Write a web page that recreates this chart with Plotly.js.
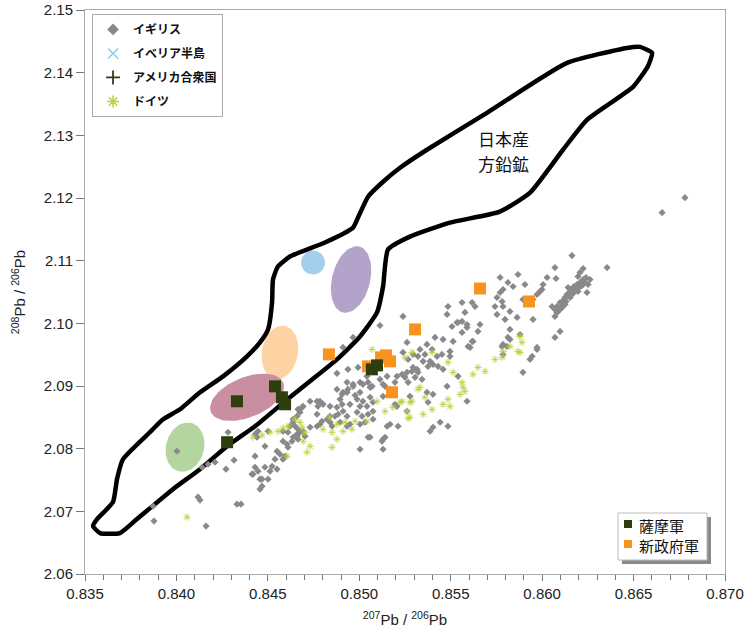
<!DOCTYPE html>
<html>
<head>
<meta charset="utf-8">
<script src="https://cdn.plot.ly/plotly-3.0.1.min.js"></script>
<style>html,body{margin:0;padding:0;background:#fff;}#chart{width:750px;height:631px;}</style>
</head>
<body>
<div id="chart"></div>
<script>
// ---- Data ----
// イギリス (UK) lead isotope points [207Pb/206Pb, 208Pb/206Pb]
const ukXY = [
[0.84003,2.07959],[0.84282,2.08262],[0.84315,2.07816],[0.84211,2.07784],[0.84173,2.07752],[0.84140,2.07704],[0.84271,2.07673],[0.84118,2.07227],[0.84129,2.07179],[0.84331,2.07115],[0.83872,2.07083],[0.83877,2.06844],[0.84162,2.06765],[0.84430,2.07880],[0.84419,2.07593],[0.84446,2.07641],[0.84484,2.08039],[0.84457,2.07513],[0.84468,2.07402],[0.84457,2.07354],[0.84353,2.07115],
[0.84933,2.09058],[0.84966,2.09027],[0.85004,2.09058],[0.85048,2.09058],[0.85070,2.08995],[0.84878,2.08947],[0.84906,2.08867],[0.84933,2.08899],[0.84977,2.08851],[0.85004,2.08899],[0.84988,2.08788],[0.85020,2.08756],[0.85059,2.08820],[0.84895,2.08788],[0.84949,2.08708],[0.84878,2.08660],[0.84911,2.08597],[0.84884,2.08549],[0.85004,2.08676],[0.85075,2.08597],[0.85048,2.08549],[0.84731,2.08756],[0.84785,2.08756],[0.84774,2.08676],[0.84692,2.08676],[0.84665,2.08628],[0.84676,2.08581],[0.84659,2.08517],[0.84769,2.08549],[0.84796,2.08437],[0.84785,2.08389],[0.84840,2.08421],[0.84851,2.08358],[0.84895,2.08421],[0.84933,2.08358],[0.84949,2.08389],[0.85004,2.08389],[0.85031,2.08421],[0.84840,2.08517],[0.84638,2.08421],[0.84649,2.08358],[0.84665,2.08310],[0.84676,2.08262],[0.84659,2.08230],[0.84638,2.08182],[0.84665,2.08151],[0.84692,2.08278],[0.84703,2.08198],[0.84632,2.08119],[0.84605,2.08071],[0.84583,2.08119],[0.84610,2.08023],[0.84550,2.07959],[0.84566,2.07912],[0.84539,2.07832],[0.84583,2.07832],[0.84594,2.07880],[0.84523,2.07720],[0.84550,2.07673],[0.84512,2.07641],[0.84484,2.07704],[0.84501,2.07513],[0.84468,2.07513],[0.84413,2.07593],[0.84430,2.07704],[0.84501,2.08278],[0.84446,2.08278],[0.84430,2.08230],[0.84441,2.08182],[0.85130,2.09027],[0.85141,2.08182],[0.85124,2.08119],[0.85048,2.08182],[0.85004,2.07991],[0.85168,2.08389],[0.85212,2.08358],[0.85075,2.08469],[0.85015,2.08517],[0.84583,2.08278],
[0.85113,2.09966],[0.84966,2.09775],[0.84911,2.09616],[0.84878,2.09202],[0.84938,2.09266],[0.84993,2.09297],[0.85042,2.09154],[0.85113,2.09106],[0.85152,2.09154],[0.85206,2.09154],[0.85195,2.09058],[0.85168,2.08947],[0.85141,2.08995],[0.85059,2.08979],[0.85020,2.09027],[0.84966,2.08995],[0.84938,2.08947],[0.84911,2.08899],[0.84906,2.08708],[0.84840,2.08676],[0.84802,2.08708],[0.84769,2.08756],[0.84687,2.08660],[0.84638,2.08469],[0.84621,2.08358],[0.84610,2.08262],[0.84659,2.08198],[0.84731,2.08342],[0.84769,2.08358],[0.84824,2.08469],[0.84867,2.08517],[0.84933,2.08517],[0.84988,2.08581],[0.85042,2.08676],[0.85075,2.08740],[0.85130,2.08835],[0.85206,2.08676],[0.85152,2.08358],[0.85130,2.08150],[0.85059,2.08182],[0.85130,2.07991],[0.85195,2.08708],
[0.85507,2.09950],[0.85540,2.10014],[0.85589,2.09982],[0.85562,2.09855],[0.85649,2.09871],[0.85414,2.09775],[0.85458,2.09743],[0.85513,2.09712],[0.85617,2.09712],[0.85595,2.09632],[0.85261,2.09696],[0.85370,2.09664],[0.85332,2.09584],[0.85398,2.09584],[0.85496,2.09552],[0.85239,2.09536],[0.85294,2.09504],[0.85321,2.09473],[0.85359,2.09504],[0.85425,2.09473],[0.85452,2.09504],[0.85496,2.09473],[0.85267,2.09425],[0.85349,2.09393],[0.85387,2.09393],[0.85403,2.09345],[0.85376,2.09313],[0.85431,2.09313],[0.85294,2.09297],[0.85316,2.09266],[0.85288,2.09234],[0.85321,2.09218],[0.85261,2.09218],[0.85234,2.09186],[0.85250,2.09138],[0.85305,2.09138],[0.85267,2.09058],[0.85343,2.09106],[0.85458,2.09266],[0.85540,2.09154],[0.85480,2.08995],[0.85370,2.08899],[0.85403,2.08867],[0.85277,2.08835],[0.85376,2.08740],[0.85261,2.08597],[0.85442,2.08421],[0.85403,2.08342],[0.85387,2.08278],[0.85485,2.08358],[0.85589,2.08756],[0.85786,2.09664],[0.85824,2.09743],[0.85808,2.09632],[0.85879,2.09822],[0.85934,2.09425],[0.85972,2.09584],[0.85895,2.09218],[0.85660,2.09982],
[0.86163,2.11081],[0.86355,2.10890],[0.86070,2.10890],[0.86224,2.10874],[0.86207,2.10811],[0.86196,2.10747],[0.86235,2.10651],[0.86245,2.10492],[0.85868,2.10779],[0.85770,2.10731],[0.85813,2.10651],[0.85841,2.10588],[0.85906,2.10620],[0.86005,2.10620],[0.85999,2.10540],[0.86027,2.10731],[0.86076,2.10715],[0.85786,2.10540],[0.85770,2.10492],[0.85753,2.10412],[0.85781,2.10349],[0.85742,2.10269],[0.85786,2.10269],[0.85895,2.10381],[0.85972,2.10460],[0.85988,2.10508],[0.85950,2.10381],[0.86142,2.10572],[0.86153,2.10508],[0.86136,2.10460],[0.86125,2.10412],[0.86114,2.10349],[0.86098,2.10333],[0.86081,2.10269],[0.86070,2.10221],[0.86070,2.10110],[0.86054,2.10269],[0.86109,2.10253],[0.86125,2.10301],[0.86163,2.10492],[0.86180,2.10540],[0.86196,2.10508],[0.85824,2.10189],[0.85753,2.10142],[0.85797,2.10062],[0.85863,2.10094],[0.85950,2.10062],[0.85824,2.09903],[0.86098,2.09871],[0.86070,2.09775],[0.85813,2.09775],[0.85972,2.09616],[0.85945,2.09473],[0.85781,2.09632],[0.85786,2.09504],
[0.85617,2.10333],[0.85633,2.10269],[0.85562,2.10333],[0.85485,2.10269],[0.85480,2.10142],[0.85578,2.10174],[0.85562,2.10030],[0.85534,2.10014],[0.85589,2.09935],[0.85622,2.09712],[0.85606,2.09616],[0.85239,2.10110],
[0.86087,2.10189],[0.86103,2.10285],[0.86120,2.10381],[0.86142,2.10444],[0.86158,2.10540],[0.86174,2.10588],[0.86191,2.10620],[0.86207,2.10651],[0.86224,2.10699],[0.86240,2.10731],[0.86153,2.10412],[0.86131,2.10349],[0.86098,2.10221],[0.86081,2.10174],[0.86169,2.10476],[0.86185,2.10556],[0.86202,2.10572],[0.86218,2.10603],[0.86251,2.10620],[0.86262,2.10699],
[0.86656,2.11766],[0.86781,2.12005]
];

// ドイツ (Germany)
const deXY = [
[0.84058,2.06908],[0.84419,2.08182],[0.84468,2.08214],[0.84512,2.08262],[0.84556,2.08278],[0.84610,2.08358],[0.84676,2.08421],[0.84687,2.08342],[0.84703,2.08262],[0.84692,2.08119],[0.84731,2.08039],[0.84714,2.07943],[0.84605,2.07880],[0.84840,2.08501],[0.84878,2.08389],[0.84922,2.08421],[0.84977,2.08437],[0.85042,2.08437],[0.84802,2.08310],[0.84851,2.08262],[0.84911,2.08278],[0.84960,2.08310],[0.84878,2.08151],[0.84851,2.08023],[0.85097,2.08756],[0.85141,2.08597],[0.85184,2.08660],[0.85223,2.08740],[0.85277,2.08740],[0.85261,2.08597],[0.85277,2.08501],[0.85321,2.08947],[0.85288,2.09536],[0.85250,2.09457],[0.85398,2.09536],[0.85485,2.09377],[0.85513,2.09218],[0.85562,2.09058],[0.85567,2.08979],[0.85578,2.08915],[0.85551,2.08867],[0.85649,2.09297],[0.85688,2.09234],[0.85622,2.09186],[0.85742,2.09425],[0.85781,2.09457],[0.85786,2.09552],[0.85824,2.09632],[0.85868,2.09552],[0.85879,2.09536],[0.85879,2.09791],[0.85890,2.09696],[0.85332,2.08979],[0.85359,2.08820],[0.85288,2.08756],[0.85234,2.08756],[0.85458,2.08708],[0.85485,2.08788],[0.85496,2.08676],[0.85398,2.08628],[0.85349,2.08549],[0.85267,2.08485],[0.85070,2.09584],[0.84583,2.08326],[0.84649,2.08469]
];

// 薩摩軍 (Satsuma army) samples
const satsumaX = [0.84277,0.84331,0.84539,0.84577,0.84594,0.85069,0.85097];
const satsumaY = [2.08103,2.08756,2.08995,2.08820,2.08708,2.09266,2.09329];

// 新政府軍 (New government army) samples
const shinseifuX = [0.84834,0.85048,0.85119,0.85146,0.85168,0.85179,0.85305,0.85660,0.85928];
const shinseifuY = [2.09505,2.09313,2.09457,2.09489,2.09393,2.08899,2.09903,2.10556,2.10349];

// 日本産方鉛鉱 (Japanese galena) field outline
const oreX = [0.86601,0.86535,0.86464,0.86136,0.85698,0.85370,0.85223,0.85130,0.85048,0.84993,0.84966,0.84812,0.84621,0.84555,0.84528,0.84523,0.84501,0.84457,0.84386,0.84255,0.84129,0.84020,0.83927,0.83855,0.83708,0.83675,0.83653,0.83566,0.83544,0.83582,0.83691,0.83784,0.83981,0.84129,0.84277,0.84430,0.84594,0.84730,0.84878,0.85004,0.85097,0.85130,0.85157,0.85277,0.85496,0.85769,0.85934,0.86114,0.86245,0.86497,0.86579,0.86601];
const oreY = [2.14315,2.14411,2.14395,2.14156,2.13359,2.12770,2.12483,2.12260,2.12021,2.11687,2.11528,2.11289,2.11066,2.10906,2.10699,2.10333,2.09903,2.09696,2.09473,2.09154,2.08899,2.08629,2.08469,2.08262,2.07832,2.07514,2.07147,2.06876,2.06765,2.06653,2.06653,2.06876,2.07354,2.07673,2.08039,2.08358,2.08756,2.09075,2.09425,2.09791,2.10174,2.10588,2.11177,2.11384,2.11607,2.11782,2.12085,2.12770,2.13248,2.13773,2.14108,2.14315];

// Regional fields (ellipses): centre in data units, semi-axes in screen px, tilt in degrees
const fieldCx = [0.84747, 0.84955, 0.84566, 0.84386, 0.84047];
const fieldCy = [2.10970, 2.10699, 2.09536, 2.08820, 2.08023];
const fieldA  = [12, 34, 27, 39, 25];
const fieldB  = [12, 19, 18, 20, 19];
const fieldTilt = [0, 76, 80, 22, 75];
const fieldColors = ['#a3cfec', '#b3a2c9', '#fdd3a3', '#c98fa0', '#b5d5a0'];

const legendNames = ['イギリス', 'イベリア半島', 'アメリカ合衆国', 'ドイツ'];
const armyNames = ['薩摩軍', '新政府軍'];
const oreLabel = ['日本産', '方鉛鉱'];
const xTicks = [0.835, 0.840, 0.845, 0.850, 0.855, 0.860, 0.865, 0.870];
const yTicks = [2.06, 2.07, 2.08, 2.09, 2.10, 2.11, 2.12, 2.13, 2.14, 2.15];

// ---- Build ----
const PX_X = 640 / 0.035, PX_Y = 564 / 0.09;
const GRAY = '#898989', STAR = '#b5d33a', DARK = '#2f3e0d', ORANGE = '#f7931e';
const traces = [];
for (let i = 0; i < fieldCx.length; i++) {
  const ex = [], ey = [];
  const th = fieldTilt[i] * Math.PI / 180;
  for (let k = 0; k <= 72; k++) {
    const t = k / 72 * 2 * Math.PI;
    const u = fieldA[i] * Math.cos(t), v = fieldB[i] * Math.sin(t);
    ex.push(fieldCx[i] + (u * Math.cos(th) - v * Math.sin(th)) / PX_X);
    ey.push(fieldCy[i] + (u * Math.sin(th) + v * Math.cos(th)) / PX_Y);
  }
  traces.push({x: ex, y: ey, mode: 'lines', fill: 'toself', fillcolor: fieldColors[i],
    line: {width: 0, color: fieldColors[i]}, hoverinfo: 'skip', showlegend: false});
}
traces.push({x: oreX, y: oreY, mode: 'lines', line: {color: '#000', width: 4.5, shape: 'spline', smoothing: 0.5},
  hoverinfo: 'skip', showlegend: false});
traces.push({x: ukXY.map(p => p[0]), y: ukXY.map(p => p[1]), mode: 'markers', name: legendNames[0],
  marker: {symbol: 'diamond', size: 5.5, color: GRAY}, showlegend: false});
traces.push({x: deXY.map(p => p[0]), y: deXY.map(p => p[1]), mode: 'markers', name: legendNames[3],
  marker: {symbol: 'asterisk-open', size: 6, color: STAR, line: {color: STAR, width: 0.9}}, showlegend: false});
traces.push({x: shinseifuX, y: shinseifuY, mode: 'markers', name: armyNames[1],
  marker: {symbol: 'square', size: 12, color: ORANGE}, showlegend: false});
traces.push({x: satsumaX, y: satsumaY, mode: 'markers', name: armyNames[0],
  marker: {symbol: 'square', size: 12, color: DARK}, showlegend: false});
// legend-only entries
const legSyms = [
  {symbol: 'diamond', size: 9, color: GRAY},
  {symbol: 'x-thin-open', size: 10, color: '#8ecae6', line: {color: '#8ecae6', width: 1.5}},
  {symbol: 'cross-thin-open', size: 10, color: DARK, line: {color: DARK, width: 1.8}},
  {symbol: 'asterisk-open', size: 10, color: STAR, line: {color: STAR, width: 1.5}}
];
for (let i = 0; i < 4; i++) {
  traces.push({x: [null], y: [null], mode: 'markers', name: legendNames[i], marker: legSyms[i],
    legendgroup: 'g' + i, legendrank: i + 1});
}

// second legend (army samples), drawn as a framed box with shadow
function px2x(p) { return (p - 85) / 640; }
function px2y(p) { return (574 - p) / 564; }
const shapes = [
  {type: 'rect', xref: 'paper', yref: 'paper', x0: px2x(622), x1: px2x(711), y0: px2y(564), y1: px2y(517),
    fillcolor: '#8a8a8a', line: {width: 0}, layer: 'above'},
  {type: 'rect', xref: 'paper', yref: 'paper', x0: px2x(618), x1: px2x(707), y0: px2y(560), y1: px2y(513),
    fillcolor: '#fff', line: {width: 1, color: '#bbb'}, layer: 'above'},
  {type: 'rect', xref: 'paper', yref: 'paper', x0: px2x(624), x1: px2x(632), y0: px2y(528), y1: px2y(520),
    fillcolor: DARK, line: {width: 0}, layer: 'above'},
  {type: 'rect', xref: 'paper', yref: 'paper', x0: px2x(624), x1: px2x(632), y0: px2y(548), y1: px2y(540),
    fillcolor: ORANGE, line: {width: 0}, layer: 'above'}
];

const cjk = '"Noto Sans CJK JP", "Liberation Sans", sans-serif';
const annotations = [
  {x: px2x(637), y: px2y(525), xref: 'paper', yref: 'paper', xanchor: 'left', yanchor: 'middle',
    text: armyNames[0], showarrow: false, font: {family: cjk, size: 15, color: '#111'}},
  {x: px2x(637), y: px2y(545), xref: 'paper', yref: 'paper', xanchor: 'left', yanchor: 'middle',
    text: armyNames[1], showarrow: false, font: {family: cjk, size: 15, color: '#111'}},
  {x: 0.85786, y: 2.12942, xref: 'x', yref: 'y', text: oreLabel[0], showarrow: false, borderpad: 0,
    font: {family: cjk, size: 17, color: '#111'}},
  {x: 0.85786, y: 2.12543, xref: 'x', yref: 'y', text: oreLabel[1], showarrow: false, borderpad: 0,
    font: {family: cjk, size: 17, color: '#111'}}
];

const layout = {
  width: 750, height: 631,
  margin: {l: 85, r: 25, t: 10, b: 57},
  paper_bgcolor: '#fff', plot_bgcolor: '#fff',
  font: {family: '"Liberation Sans", Arial, sans-serif', color: '#222'},
  xaxis: {range: [0.835, 0.870], tickvals: xTicks, tickformat: '.3f', showgrid: false, zeroline: false,
    showline: true, linecolor: '#aaa', mirror: true, ticks: 'outside', ticklen: 6, tickcolor: '#777',
    minor: {dtick: 0.001, ticks: 'outside', ticklen: 5, tickcolor: '#777', showgrid: false},
    tickfont: {size: 15, color: '#222'},
    title: {text: '<sup>207</sup>Pb / <sup>206</sup>Pb', font: {size: 15, color: '#222'}, standoff: 13}},
  yaxis: {range: [2.06, 2.15], tickvals: yTicks, tickformat: '.2f', showgrid: false, zeroline: false,
    showline: true, linecolor: '#aaa', mirror: true, ticks: 'outside', ticklen: 8, tickcolor: '#777',
    tickfont: {size: 15, color: '#222'},
    title: {text: '<sup>208</sup>Pb / <sup>206</sup>Pb', font: {size: 15, color: '#222'}, standoff: 14}},
  legend: {x: 0.011, y: 0.993, xanchor: 'left', yanchor: 'top', bgcolor: '#fff', bordercolor: '#aaa',
    borderwidth: 1, traceorder: 'grouped', tracegroupgap: 5,
    font: {family: cjk, size: 12, color: '#111', weight: 'bold'}},
  shapes: shapes,
  annotations: annotations
};
Plotly.newPlot('chart', traces, layout, {displayModeBar: false, staticPlot: true});
</script>
</body>
</html>
